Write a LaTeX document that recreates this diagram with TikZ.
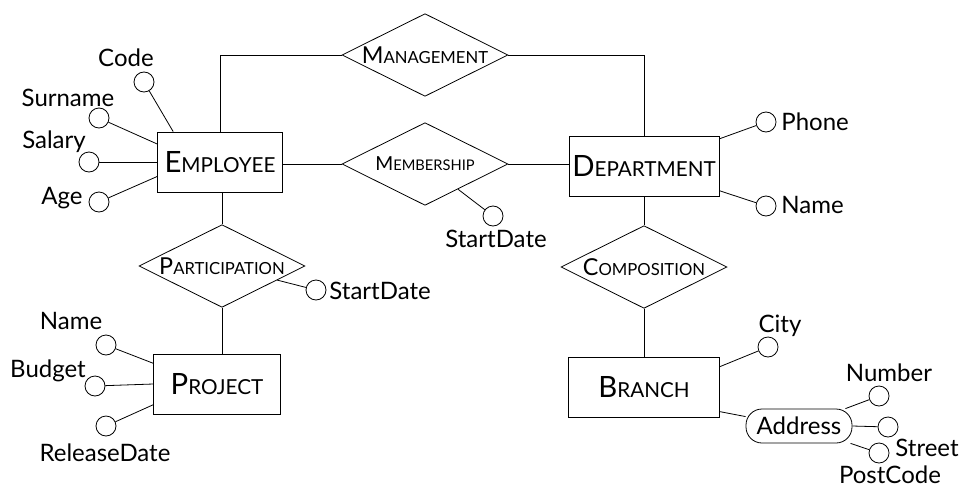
\documentclass[tikz,border=0pt]{standalone}
\usepackage{fontspec}
\setmainfont{Lato}
\usetikzlibrary{shapes.geometric}

\newcommand{\entname}[2]{{\fontsize{22}{26}\selectfont #1}{\fontsize{15.5}{20}\selectfont #2}}
\newcommand{\relname}[2]{{\fontsize{17.5}{20}\selectfont #1}{\fontsize{12.5}{15}\selectfont #2}}
\newcommand{\relnamesm}[2]{{\fontsize{14.5}{16}\selectfont #1}{\fontsize{11}{12}\selectfont #2}}

\begin{document}
\begin{tikzpicture}[x=0.75pt,y=-0.75pt,line width=0.6pt,
	entity/.style={rectangle,draw,minimum height=45pt,inner sep=2pt},
	relation/.style={diamond,draw,aspect=2,minimum width=124.5pt,minimum height=62pt,inner sep=0pt},
	attr/.style={circle,draw,minimum size=15pt,inner sep=0pt},
	attrtext/.style={inner sep=0pt,font=\fontsize{18}{20}\selectfont}]
	\useasboundingbox (0,0) rectangle (966,489);

	% Entities
	\node (emp) [entity,minimum width=93.75pt] at (220,162) {\entname{E}{MPLOYEE}};
	\node (dept) [entity,minimum width=112.5pt] at (644,166) {\entname{D}{EPARTMENT}};
	\node (proj) [entity,minimum width=95pt] at (217,384) {\entname{P}{ROJECT}};
	\node (branch) [entity,minimum width=113pt] at (644,387) {\entname{B}{RANCH}};

	% Relationships
	\node (mgmt) [relation] at (425,55) {\relname{M}{ANAGEMENT}};
	\node (memb) [relation] at (425,164) {\relnamesm{M}{EMBERSHIP}};
	\node (part) [relation] at (222,266) {\relname{P}{ARTICIPATION}};
	\node (comp) [relation] at (644,267) {\relname{C}{OMPOSITION}};
	\draw (emp.north) |- (mgmt.west);
	\draw (mgmt.east) -| (dept.north);
	\draw (memb.west) -- (memb.west -| emp.east);
	\draw (memb.east) -- (memb.east -| dept.west);
	\draw (part.north) -- (part.north |- emp.south);
	\draw (part.south) -- (part.south |- proj.north);
	\draw (dept) -- (comp);
	\draw (comp) -- (branch);

	% Employee attributes
	\node (code) [attr] at (144,82) {};
	\node (surname) [attr] at (99,118) {};
	\node (salary) [attr] at (89,162) {};
	\node (age) [attr] at (99,202) {};
	\draw (emp.147) -- (code);
	\draw (emp.164) -- (surname);
	\draw (emp.west) -- (salary);
	\draw (emp.193) -- (age);
	\node (code-t) [attrtext,anchor=base] at (126,66) {Code};
	\node (surname-t) [attrtext,anchor=base] at (68,106) {Surname};
	\node (salary-t) [attrtext,anchor=base] at (54,148) {Salary};
	\node (age-t) [attrtext,anchor=base] at (62,204) {Age};

	% Department attributes
	\node (phone) [attr] at (766,122) {};
	\node (dname) [attr] at (766,206) {};
	\draw (dept) -- (phone);
	\draw (dept) -- (dname);
	\node (phone-t) [attrtext,anchor=base west] at (781,130) {Phone};
	\node (dname-t) [attrtext,anchor=base west] at (781,213) {Name};

	% Relationship attributes
	\node (mstart) [attr] at (493,216) {};
	\draw (memb) -- (mstart);
	\node (mstart-t) [attrtext,anchor=base] at (496,247) {StartDate};
	\node (pstart) [attr] at (316,290) {};
	\draw (part) -- (pstart);
	\node (pstart-t) [attrtext,anchor=base west] at (329,299) {StartDate};

	% Project attributes
	\node (pname) [attr] at (106,345) {};
	\node (budget) [attr] at (95,386) {};
	\node (release) [attr] at (106,426) {};
	\draw (proj.162) -- (pname);
	\draw (proj.west) -- (budget);
	\draw (proj.198) -- (release);
	\node (pname-t) [attrtext,anchor=base] at (71,329) {Name};
	\node (budget-t) [attrtext,anchor=base] at (48,377) {Budget};
	\node (release-t) [attrtext,anchor=base] at (105,461) {ReleaseDate};

	% Branch attributes
	\node (city) [attr] at (768,347) {};
	\draw (branch.15) -- (city);
	\node (city-t) [attrtext,anchor=base] at (780,332) {City};
	\node (addr) [draw,rounded corners=12pt,minimum width=79.5pt,minimum height=25.5pt,inner sep=0pt,font=\fontsize{18}{20}\selectfont] at (799,426) {Address};
	\draw (branch.-18) -- (addr.170);
	\node (number) [attr] at (879,396) {};
	\node (street) [attr] at (888,427) {};
	\node (postcode) [attr] at (879,453) {};
	\draw (addr) -- (number);
	\draw (addr.east) -- (street);
	\draw (addr) -- (postcode);
	\node (number-t) [attrtext,anchor=base] at (889,381) {Number};
	\node (street-t) [attrtext,anchor=base] at (927,456) {Street};
	\node (postcode-t) [attrtext,anchor=base] at (890,483) {PostCode};
\end{tikzpicture}
\end{document}
